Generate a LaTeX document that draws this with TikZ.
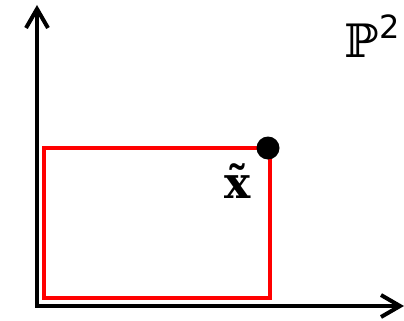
\documentclass[tikz,border=0pt]{standalone}
\usepackage{fontspec}
\newfontfamily\dvs{DejaVu Sans}
\newfontfamily\dvserif{DejaVu Serif}
\usetikzlibrary{arrows.meta}
\begin{document}
\begin{tikzpicture}[x=1pt,y=-1pt,
  axis/.style={line width=4pt,-{Straight Barb[length=19pt,width=22pt,line width=4pt]}},
  box/.style={draw=red,line width=3.6pt}]
\useasboundingbox (0,0) rectangle (404,321);
\coordinate (o) at (37,306);
\coordinate (ytop) at (37,5);
\coordinate (xend) at (404,306);
\draw[axis] (o) -- (ytop);
\draw[axis] ([xshift=-2pt]o) -- (xend);
\draw[box] (44,148) rectangle (270,298);
\node[circle,fill=black,minimum size=23pt,inner sep=0pt] (pt) at (268,148) {};
\node[font=\dvserif\bfseries\fontsize{44}{44}\selectfont,inner sep=0pt] (lbl) at (238,181) {x̃};
\node[font=\dvserif\fontsize{46}{46}\selectfont,inner sep=0pt,anchor=base west] (p2) at (344,58) {ℙ\kern1pt\raisebox{0.42em}{\dvs\fontsize{32}{32}\selectfont 2}};
\end{tikzpicture}
\end{document}
